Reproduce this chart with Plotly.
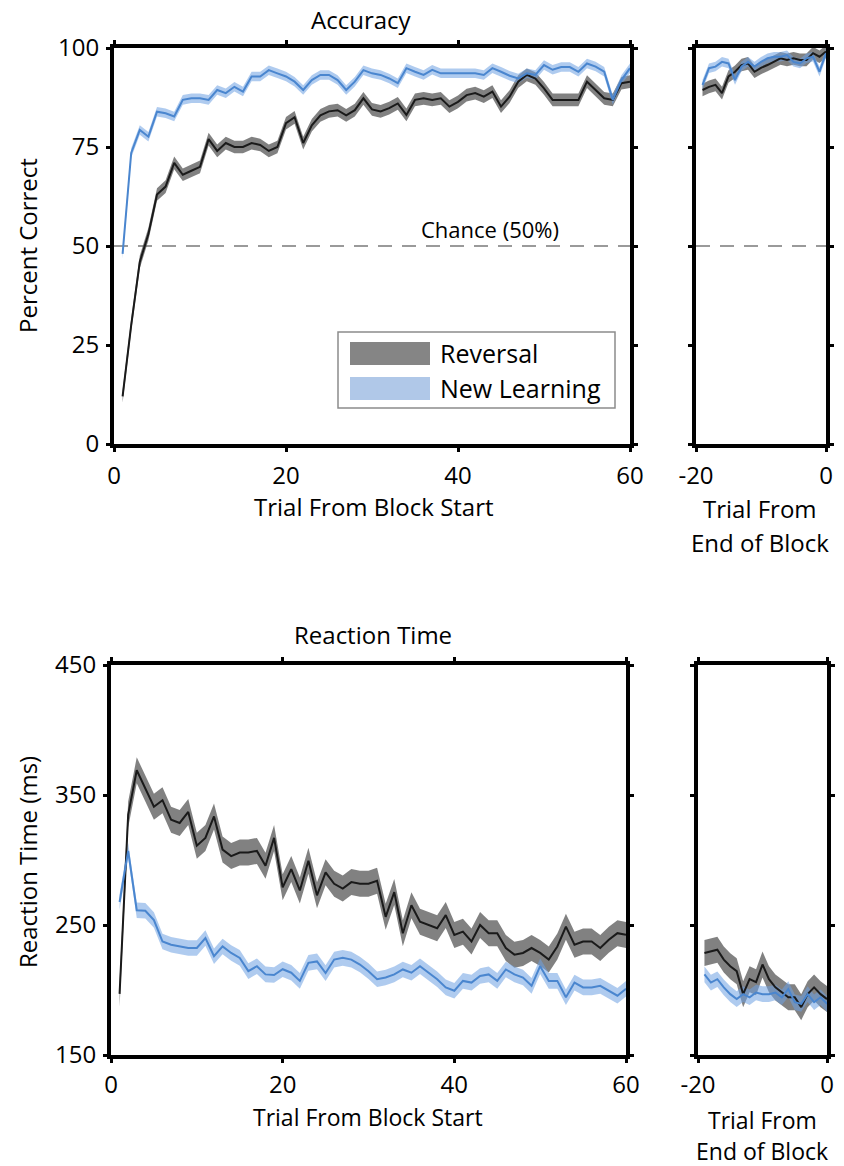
import plotly.graph_objects as go

# ---------------- data ----------------
trials = list(range(1, 61))
end_trials = list(range(-19, 1))

acc_rev = [12, 30, 46, 53, 63, 65, 71, 68, 69, 70,
           77, 74, 76, 75, 75, 76, 75.5, 74, 75, 81,
           82.5, 76, 80.5, 83, 84, 84.3, 83, 84.3, 87.3, 84.5,
           84, 84.8, 86, 83.1, 86.9, 87.3, 86.9, 87.3, 85.2, 86.4,
           88.1, 88.6, 87.7, 89, 85.2, 87.7, 91.5, 93.2, 92.3, 89.8,
           86.9, 86.9, 86.9, 86.9, 91.5, 89.4, 87.3, 86.9, 91.1, 91.5]
acc_new = [48, 73.5, 79.3, 77.6, 83.9, 83.5, 82.7, 86.9, 87.3, 87.3,
           86.9, 89.4, 88.6, 90.2, 89, 92.8, 92.8, 94.4, 93.6, 92.8,
           91.5, 89.4, 91.9, 93.2, 93.2, 91.9, 89.4, 91.5, 94.4, 93.6,
           93.2, 92.3, 91.1, 94.9, 94, 93.2, 94.5, 93.6, 93.6, 93.6,
           93.6, 93.6, 93.2, 94.9, 94, 93, 92.3, 93.6, 93.2, 95.7,
           94.5, 95.2, 95.2, 94, 96.1, 95.3, 94, 86.9, 91.9, 94.9]
acc_rev_end = [89.4, 90.2, 90.7, 88.6, 92.8, 94, 95.7, 96.1, 94, 95,
               95.7, 96.5, 97.4, 97, 97.4, 97, 97, 98.7, 97.8, 99.1]
acc_new_end = [90.7, 94.9, 95.3, 96.5, 96.1, 91.9, 95.3, 96.5, 95.3, 96.5,
               97.4, 97.8, 97.8, 98.2, 96.5, 96.1, 97.4, 97.8, 94.0, 98.7]

rt_rev = [197, 335, 369, 355, 341, 346, 331, 328.5, 337, 311,
          317, 333.5, 308, 303, 305.7, 305.7, 307, 295.6, 317, 279,
          293, 276.6, 299.4, 272.8, 290.5, 281.7, 278, 283, 281.7, 281.7,
          284, 256.3, 275.3, 243.7, 265.2, 252.5, 250, 247.5, 257.6, 242.4,
          244.9, 237.3, 250, 243.7, 243.7, 232.3, 227.2, 228.5, 232.3, 228.5,
          223.4, 233.5, 248.7, 234.8, 237.3, 237.3, 232.3, 238.6, 243.7, 242.4]
rt_new = [267.7, 307, 261.4, 261, 253.8, 237.3, 234.8, 233.5, 232.3, 232.3,
          240, 226, 233.5, 228.5, 224.7, 214.5, 218.3, 212, 211.5, 216,
          213.3, 207, 220.9, 222, 213, 223.4, 224.7, 223.4, 219.6, 214.5,
          208.3, 209.6, 212, 215.8, 213.3, 218.3, 213.3, 208.3, 202, 199.4,
          207, 205.7, 210.8, 212, 207, 215.8, 212, 209.6, 203.2, 218.3,
          207, 207, 194.4, 205.7, 202, 202, 203.2, 199.4, 195.6, 201]
rt_rev_end = [228.5, 229.8, 231, 223.4, 218.3, 214.5, 196.8, 208.3, 206, 219.6,
              208.3, 202, 198.1, 194.4, 194.4, 186.8, 196.8, 202, 196.8, 193]
rt_new_end = [212, 205.7, 208.3, 202, 196.8, 193, 196.8, 194.4, 198.1, 196.8,
              196.8, 198.1, 194.4, 200.7, 190.6, 189.3, 196.8, 190.6, 194.4, 189.3]

# standard errors (shaded bands)
acc_rev_sem = 1.6
acc_new_sem = 1.2
rt_rev_sem = 10
rt_new_sem = 6
chance_level = 50

# ---------------- styling ----------------
W, H = 844, 1166
FONT = "Open Sans"
BLACK_LINE = "#1a1a1a"
BLACK_BAND = "rgba(80,80,80,0.72)"
BLUE_LINE = "#4a86cf"
BLUE_BAND = "rgba(110,160,225,0.55)"


def pxx(x):
    return x / W


def pxy(y):
    return 1 - y / H


fig = go.Figure()


def add_series(x, y, sem, band, line, xa, ya):
    up = [v + sem for v in y]
    lo = [v - sem for v in y]
    fig.add_trace(go.Scatter(x=list(x) + list(x)[::-1], y=up + lo[::-1], fill="toself",
                             fillcolor=band, line=dict(width=0), mode="lines",
                             hoverinfo="skip", showlegend=False, xaxis=xa, yaxis=ya))
    return (x, y, line, xa, ya)


lines = []
lines.append(add_series(trials, acc_rev, acc_rev_sem, BLACK_BAND, BLACK_LINE, "x", "y"))
lines.append(add_series(trials, acc_new, acc_new_sem, BLUE_BAND, BLUE_LINE, "x", "y"))
lines.append(add_series(end_trials, acc_rev_end, acc_rev_sem, BLACK_BAND, BLACK_LINE, "x2", "y2"))
lines.append(add_series(end_trials, acc_new_end, acc_new_sem, BLUE_BAND, BLUE_LINE, "x2", "y2"))
lines.append(add_series(trials, rt_rev, rt_rev_sem, BLACK_BAND, BLACK_LINE, "x3", "y3"))
lines.append(add_series(trials, rt_new, rt_new_sem, BLUE_BAND, BLUE_LINE, "x3", "y3"))
lines.append(add_series(end_trials, rt_rev_end, rt_rev_sem, BLACK_BAND, BLACK_LINE, "x4", "y4"))
lines.append(add_series(end_trials, rt_new_end, rt_new_sem, BLUE_BAND, BLUE_LINE, "x4", "y4"))

for x, y, c, xa, ya in lines:
    fig.add_trace(go.Scatter(x=x, y=y, mode="lines", line=dict(color=c, width=2),
                             showlegend=False, xaxis=xa, yaxis=ya))

# chance lines
for xr, yr in (("x", "y"), ("x2", "y2")):
    fig.add_shape(type="line", xref=xr + " domain", yref=yr, x0=0, x1=1,
                  y0=chance_level, y1=chance_level,
                  line=dict(color="#9a9a9a", width=2, dash="14px,10px"), layer="below")

axis_common = dict(showline=True, linewidth=4, linecolor="black", mirror="ticks",
                   ticks="outside", ticklen=4, tickwidth=3, tickcolor="black",
                   showgrid=False, zeroline=False, automargin=False,
                   tickfont=dict(family=FONT, size=24, color="black"))

top_dom = [pxy(444), pxy(48)]
bot_dom = [pxy(1055), pxy(665)]

fig.update_layout(
    template="none",
    width=W, height=H, margin=dict(l=0, r=0, t=0, b=0, pad=0), autosize=False,
    paper_bgcolor="white", plot_bgcolor="white", showlegend=False,
    xaxis=dict(domain=[pxx(114), pxx(630)], range=[0, 60], tickvals=[0, 20, 40, 60],
               anchor="y", ticklabelstandoff=3, **axis_common),
    yaxis=dict(domain=top_dom, range=[0, 100], tickvals=[0, 25, 50, 75, 100],
               anchor="x", ticklabelstandoff=2, **axis_common),
    xaxis2=dict(domain=[pxx(696), pxx(826)], range=[-20, 0], tickvals=[-20, 0],
                ticktext=["-20", "0"], anchor="y2", ticklabelstandoff=3, **axis_common),
    yaxis2=dict(domain=top_dom, range=[0, 100], tickvals=[0, 25, 50, 75, 100],
                anchor="x2", showticklabels=False, **axis_common),
    xaxis3=dict(domain=[pxx(111), pxx(626)], range=[0, 60], tickvals=[0, 20, 40, 60],
                anchor="y3", ticklabelstandoff=1, **axis_common),
    yaxis3=dict(domain=bot_dom, range=[150, 450], tickvals=[150, 250, 350, 450],
                anchor="x3", ticklabelstandoff=2, **axis_common),
    xaxis4=dict(domain=[pxx(698), pxx(827)], range=[-20, 0], tickvals=[-20, 0],
                ticktext=["-20", "0"], anchor="y4", ticklabelstandoff=1, **axis_common),
    yaxis4=dict(domain=bot_dom, range=[150, 450], tickvals=[150, 250, 350, 450],
                anchor="x4", showticklabels=False, **axis_common),
)


def text(t, x, y, size=24, angle=0, xanchor="center"):
    fig.add_annotation(text=t, x=pxx(x), y=pxy(y), xref="paper", yref="paper",
                       showarrow=False, xanchor=xanchor, yanchor="middle", textangle=angle,
                       font=dict(family=FONT, size=size, color="black"))


text("Accuracy", 361, 20)
text("Percent Correct", 27, 246, angle=-90)
text("Trial From Block Start", 374, 506)
text("Trial From", 760, 508)
text("End of Block", 760, 542)
text("Chance (50%)", 490, 229, size=22)

text("Reaction Time", 373, 634)
text("Reaction Time (ms)", 27, 862, angle=-90)
text("Trial From Block Start", 368, 1117, size=23)
text("Trial From", 762, 1120, size=23)
text("End of Block", 762, 1151, size=23)

# legend (manual, wide swatches)
fig.add_shape(type="rect", xref="paper", yref="paper", x0=pxx(338), x1=pxx(615),
              y0=pxy(408), y1=pxy(332), line=dict(color="#8c8c8c", width=1.5),
              fillcolor="white")
fig.add_shape(type="rect", xref="paper", yref="paper", x0=pxx(350), x1=pxx(430),
              y0=pxy(365), y1=pxy(342), line=dict(width=0), fillcolor="#858585")
fig.add_shape(type="rect", xref="paper", yref="paper", x0=pxx(350), x1=pxx(430),
              y0=pxy(400), y1=pxy(377), line=dict(width=0), fillcolor="#b0c8e8")
text("Reversal", 438, 353, size=25, xanchor="left")
text("New Learning", 438, 388, size=25, xanchor="left")

fig.write_html("out.html")
